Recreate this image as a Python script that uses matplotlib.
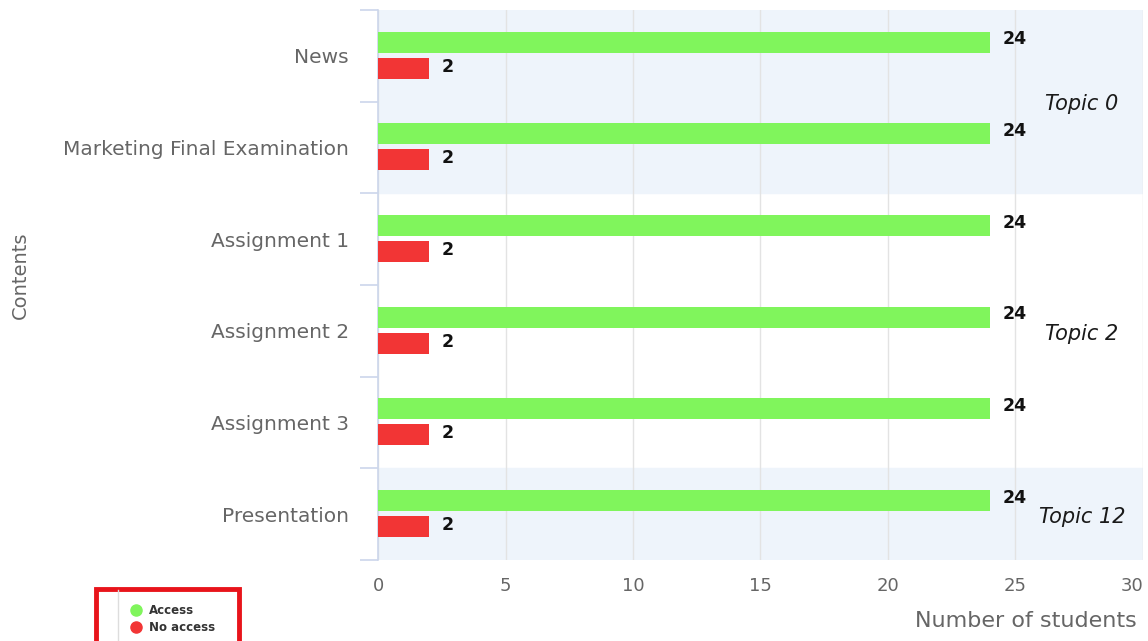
import matplotlib.pyplot as plt
from matplotlib.patches import Rectangle
from matplotlib.lines import Line2D

# --- Data ---
contents = ["News", "Marketing Final Examination", "Assignment 1",
            "Assignment 2", "Assignment 3", "Presentation"]
access = [24, 24, 24, 24, 24, 24]
no_access = [2, 2, 2, 2, 2, 2]
topic_names = ["Topic 0", "Topic 2", "Topic 12"]
topic_start = [0, 2, 5]
topic_end = [1, 4, 5]
x_ticks = [0, 5, 10, 15, 20, 25, 30]

GREEN = "#80f55c"
RED = "#f23535"
GRAY_TXT = "#666666"
AXIS_CLR = "#ccd6eb"

fig = plt.figure(figsize=(11.48, 6.41), dpi=100)
ax = fig.add_axes([0.3293, 0.1264, 0.6663, 0.858])

n = len(contents)
ypos = list(range(n))

# topic bands (alternating light blue / white)
for i, (s, e) in enumerate(zip(topic_start, topic_end)):
    if i % 2 == 0:
        ax.axhspan(s - 0.5, e + 0.5, color="#eef4fb", zorder=0)
    ax.text(27.6, (s + e) / 2 + 0.03, topic_names[i], ha="center", va="center",
            fontsize=15, style="italic", color="#1a1a1a", zorder=4)

h = 0.23
ax.barh([y - 0.15 for y in ypos], access, height=h, color=GREEN,
        zorder=3, label="Access")
ax.barh([y + 0.135 for y in ypos], no_access, height=h, color=RED,
        zorder=3, label="No access")

for y, v in zip(ypos, access):
    ax.text(v + 0.5, y - 0.18, str(v), va="center", ha="left", fontsize=12.5,
            fontweight="bold", color="#111111", zorder=4)
for y, v in zip(ypos, no_access):
    ax.text(v + 0.5, y + 0.12, str(v), va="center", ha="left", fontsize=12.5,
            fontweight="bold", color="#111111", zorder=4)

ax.set_xlim(0, 30)
ax.set_ylim(n - 0.5, -0.5)
ax.set_xticks(x_ticks)
ax.set_xticklabels([str(t) for t in x_ticks], fontsize=13, color=GRAY_TXT)
ax.get_xticklabels()[-1].set_horizontalalignment("right")
ax.tick_params(axis="x", length=0, pad=12)
ax.grid(axis="x", color="#e3e3e3", linewidth=1, zorder=1)

# category labels centered, ticks on boundaries
ax.set_yticks(ypos)
ax.set_yticklabels(contents, fontsize=14.5, color=GRAY_TXT)
ax.tick_params(axis="y", which="major", length=0, pad=21)
ax.set_yticks([y - 0.5 for y in range(n + 1)], minor=True)
ax.tick_params(axis="y", which="minor", length=13, color=AXIS_CLR, width=1.2)

for side in ["top", "right", "bottom"]:
    ax.spines[side].set_visible(False)
ax.spines["left"].set_color(AXIS_CLR)
ax.spines["left"].set_linewidth(1.2)

fig.text(0.0175, 0.571, "Contents", rotation=90, fontsize=14, color=GRAY_TXT,
         ha="center", va="center")
fig.text(0.894, 0.031, "Number of students", fontsize=16, color=GRAY_TXT,
         ha="center", va="center")

# legend in red highlight box
leg = fig.legend(handles=[
    Line2D([], [], marker="o", linestyle="", color=GREEN, markersize=8, label="Access"),
    Line2D([], [], marker="o", linestyle="", color=RED, markersize=8, label="No access")],
    loc="center left", bbox_to_anchor=(0.103, 0.034), frameon=False,
    fontsize=8.5, handletextpad=0.1, labelspacing=0.35, borderpad=0)
for t in leg.get_texts():
    t.set_fontweight("bold")
    t.set_color("#333333")
fig.add_artist(Line2D([118 / 1148, 118 / 1148], [0, 51 / 641], color="#dddddd",
                      linewidth=1, transform=fig.transFigure))
fig.add_artist(Rectangle((96 / 1148, -0.02), 143 / 1148, 0.02 + 52 / 641,
                         transform=fig.transFigure, fill=False,
                         edgecolor="#e8141b", linewidth=3.5))

fig.savefig("out.png", dpi=100)
